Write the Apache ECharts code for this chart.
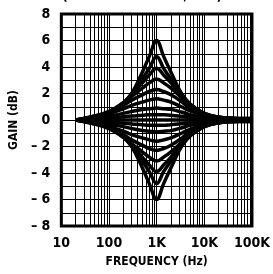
<!DOCTYPE html>
<html>
<head>
<meta charset="utf-8">
<script src="https://cdn.jsdelivr.net/npm/echarts@6/dist/echarts.min.js"></script>
<style>
  html, body { margin: 0; padding: 0; background: #fff; }
  #chart { width: 273px; height: 274px; }
</style>
</head>
<body>
<div id="chart"></div>
<script>
// equalizer boost/cut response, one band at 1 kHz
var freqs = [20, 50, 100, 200, 300, 500, 700, 1000, 1400, 2000, 3300, 5000, 10000, 20000, 50000, 100000];

var boost6 = [0, 0.15, 0.4, 1.2, 2.0, 3.6, 4.8, 6.0, 4.8, 3.6, 2.0, 1.2, 0.4, 0.15, 0.1, 0.1];
var boost5 = [0, 0.2, 0.5, 1.3, 2.0, 3.1, 3.9, 4.8, 3.9, 3.1, 2.0, 1.2, 0.45, 0.2, 0.12, 0.12];
var boost4 = [0, 0.25, 0.6, 1.3, 1.9, 2.8, 3.4, 3.9, 3.4, 2.8, 1.9, 1.2, 0.5, 0.2, 0.12, 0.12];
var boost3 = [0, 0.3, 0.65, 1.3, 1.8, 2.4, 2.8, 3.1, 2.8, 2.4, 1.7, 1.1, 0.5, 0.2, 0.1, 0.1];
var boost2 = [0, 0.3, 0.6, 1.1, 1.5, 1.9, 2.15, 2.3, 2.15, 1.9, 1.4, 0.9, 0.45, 0.2, 0.1, 0.1];
var boost1 = [0, 0.25, 0.5, 0.85, 1.1, 1.35, 1.5, 1.6, 1.5, 1.35, 1.0, 0.7, 0.35, 0.15, 0.08, 0.08];
var boost0 = [0, 0.15, 0.3, 0.5, 0.65, 0.8, 0.85, 0.9, 0.85, 0.8, 0.6, 0.4, 0.2, 0.1, 0.05, 0.05];
var boostH = [0, 0.08, 0.15, 0.25, 0.3, 0.35, 0.4, 0.4, 0.4, 0.35, 0.28, 0.2, 0.1, 0.05, 0.03, 0.03];
var flat   = [0, 0, 0, 0, 0, 0, 0, 0, 0, 0, 0, 0, 0, 0, 0, 0];
var cutH   = [0, -0.08, -0.15, -0.25, -0.3, -0.35, -0.4, -0.4, -0.4, -0.35, -0.28, -0.2, -0.1, -0.05, -0.03, -0.03];
var cut0   = [0, -0.15, -0.3, -0.5, -0.65, -0.8, -0.85, -0.9, -0.85, -0.8, -0.6, -0.4, -0.2, -0.1, -0.05, -0.05];
var cut1   = [0, -0.25, -0.5, -0.85, -1.1, -1.35, -1.5, -1.6, -1.5, -1.35, -1.0, -0.7, -0.35, -0.15, -0.08, -0.08];
var cut2   = [0, -0.3, -0.6, -1.1, -1.5, -1.9, -2.15, -2.3, -2.15, -1.9, -1.4, -0.9, -0.45, -0.2, -0.1, -0.1];
var cut3   = [0, -0.3, -0.65, -1.3, -1.8, -2.4, -2.8, -3.1, -2.8, -2.4, -1.7, -1.1, -0.5, -0.2, -0.1, -0.1];
var cut4   = [0, -0.25, -0.6, -1.3, -1.9, -2.8, -3.4, -3.9, -3.4, -2.8, -1.9, -1.2, -0.5, -0.2, -0.12, -0.12];
var cut5   = [0, -0.2, -0.5, -1.3, -2.0, -3.1, -3.9, -4.8, -3.9, -3.1, -2.0, -1.2, -0.45, -0.2, -0.12, -0.12];
var cut6   = [0, -0.15, -0.4, -1.2, -2.0, -3.6, -4.8, -6.0, -4.8, -3.6, -2.0, -1.2, -0.4, -0.15, -0.1, -0.1];

var curves = [boost6, boost5, boost4, boost3, boost2, boost1, boost0, boostH, flat,
              cutH, cut0, cut1, cut2, cut3, cut4, cut5, cut6];

var xTickLabels = { 10: '10', 100: '100', 1000: '1K', 10000: '10K', 100000: '100K' };
// log grid lines inside each decade
var xGridLines = [20, 30, 40, 50, 60, 70, 80, 90,
                  100, 200, 300, 400, 500, 600, 700, 800, 900,
                  1000, 2000, 3000, 4000, 5000, 6000, 7000, 8000, 9000,
                  10000, 20000, 30000, 40000, 50000, 60000, 70000, 80000, 90000];

var font = "'DejaVu Sans Condensed', 'Liberation Sans', sans-serif";

var series = curves.map(function (c, i) {
  return {
    type: 'line',
    data: freqs.map(function (f, j) { return [f, c[j]]; }),
    smooth: 0.4,
    showSymbol: false,
    lineStyle: { color: '#000', width: 3.5 },
    z: 5
  };
});

series.push({
  type: 'line',
  data: [],
  silent: true,
  markLine: {
    symbol: 'none',
    silent: true,
    label: { show: false },
    lineStyle: { color: '#000', width: 1, type: 'solid' },
    data: xGridLines.map(function (v) { return { xAxis: v }; })
  },
  z: 1
});

var chart = echarts.init(document.getElementById('chart'), null, { renderer: 'canvas' });

var option = {
  animation: false,
  backgroundColor: '#fff',
  title: {
    text: '(VARIOUS BOOST/CUT)',
    left: 57,
    top: -16,
    textStyle: { fontFamily: font, fontWeight: 'bold', fontSize: 14, color: '#000' }
  },
  grid: {
    left: 53, right: 10, top: 14, bottom: 48,
    show: true, borderColor: '#000', borderWidth: 3
  },
  xAxis: {
    type: 'log',
    logBase: 10,
    min: 10,
    max: 100000,
    name: 'FREQUENCY (Hz)',
    nameLocation: 'middle',
    nameGap: 30,
    nameTextStyle: { fontFamily: font, fontWeight: 'bold', fontSize: 12, color: '#000' },
    axisLine: { show: false },
    axisTick: { show: false },
    splitLine: { show: false },
    axisLabel: {
      margin: 10,
      fontFamily: font, fontWeight: 'bold', fontSize: 14, color: '#000',
      formatter: function (v) { return xTickLabels[Math.round(v)] || ''; }
    }
  },
  yAxis: {
    type: 'value',
    min: -8,
    max: 8,
    interval: 2,
    name: 'GAIN (dB)',
    nameLocation: 'middle',
    nameGap: 22,
    nameTextStyle: { fontFamily: font, fontWeight: 'bold', fontSize: 12, color: '#000' },
    axisLine: { show: false },
    axisTick: { show: false },
    splitLine: { show: true, lineStyle: { color: '#000', width: 1 } },
    minorTick: { show: false, splitNumber: 2 },
    minorSplitLine: { show: true, lineStyle: { color: '#000', width: 1 } },
    axisLabel: {
      margin: 11,
      fontFamily: font, fontWeight: 'bold', fontSize: 14, color: '#000',
      formatter: function (v) { return v < 0 ? '\u2013 ' + Math.abs(v) : String(v); }
    }
  },
  series: series
};

chart.setOption(option);
</script>
</body>
</html>
